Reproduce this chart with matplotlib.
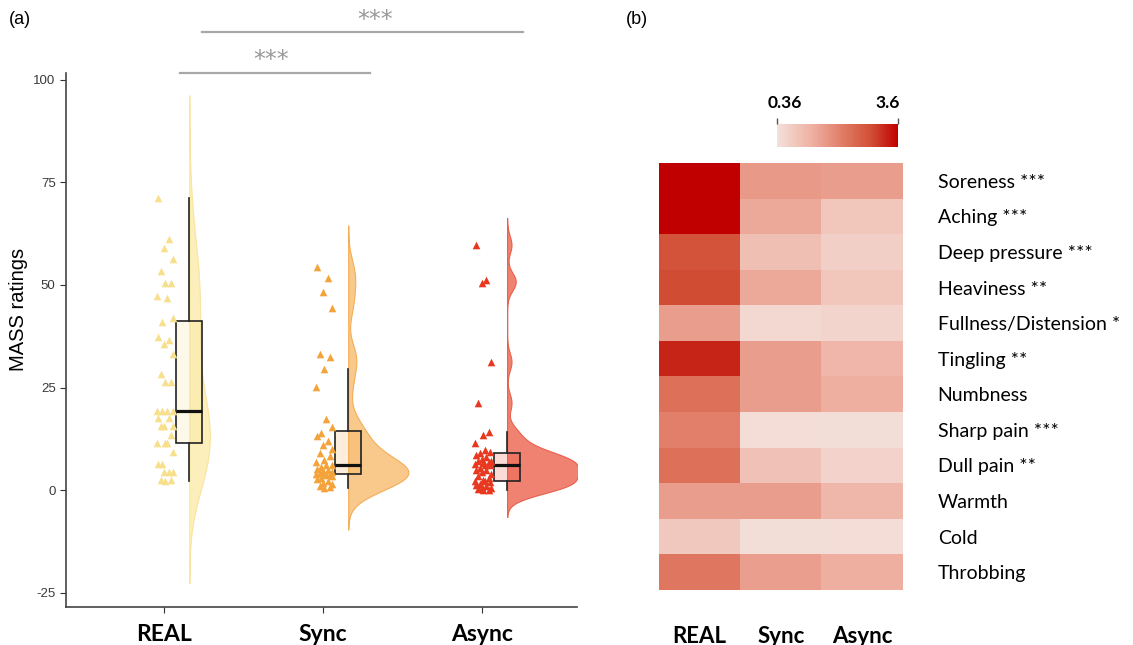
import numpy as np
import matplotlib
matplotlib.use("Agg")
import matplotlib.pyplot as plt
from matplotlib import mlab
from matplotlib.colors import LinearSegmentedColormap, to_rgba

plt.rcParams['font.family'] = ['Liberation Sans', 'DejaVu Sans']
plt.rcParams['axes.unicode_minus'] = False

# ---- panel (a) data: MASS ratings per condition ----
groups = ['REAL', 'Sync', 'Async']
real_vals = [71.3, 61.3, 59.1, 56.3, 53.3, 50.4, 50.4, 47.4, 46.8, 42.0,
             41.0, 37.3, 36.6, 35.6, 33.2, 28.3, 26.3, 26.3, 19.3, 19.3,
             19.3, 19.3, 17.6, 17.6, 15.6, 15.6, 15.6, 13.4, 11.5, 11.5,
             11.5, 9.3, 6.4, 6.4, 4.3, 4.3, 4.3, 2.5, 2.5, 2.2]
sync_vals = [54.4, 51.6, 48.4, 44.4, 33.2, 32.5, 29.5, 25.2, 17.3, 15.4,
             14.0, 13.2, 12.0, 11.0, 10.0, 9.0, 8.2, 7.4, 6.8, 6.2,
             6.0, 5.6, 5.2, 4.9, 4.6, 4.4, 4.2, 4.0, 3.9, 3.85,
             3.8, 3.4, 3.0, 2.6, 2.2, 1.8, 1.4, 1.0, 0.8, 0.5]
async_vals = [59.8, 51.2, 50.4, 31.3, 21.3, 14.1, 13.4, 11.4, 9.8, 9.2,
              9.0, 8.5, 8.0, 7.5, 7.2, 7.0, 6.8, 6.5, 6.3, 6.2,
              6.0, 5.5, 5.0, 4.8, 4.5, 4.0, 3.5, 3.0, 2.5, 2.3,
              2.1, 2.0, 1.5, 1.2, 1.0, 0.8, 0.5, 0.3, 0.0, 0.0]

point_colors = ['#f8df8c', '#f4a33a', '#e8381f']
violin_colors = ['#fcefbb', '#f9c98c', '#f08272']
edge_colors = ['#f9e4a0', '#f5ad55', '#e9604d']

# ---- panel (b) data: mean sensation intensity ----
symptoms = ['Soreness', 'Aching', 'Deep pressure', 'Heaviness',
            'Fullness/Distension', 'Tingling', 'Numbness', 'Sharp pain',
            'Dull pain', 'Warmth', 'Cold', 'Throbbing']
sig_marks = ['***', '***', '***', '**', '*', '**', '', '***', '**', '', '', '']
heat_real = [3.6, 3.6, 2.8, 2.9, 1.6, 3.27, 2.3, 2.05, 2.3, 1.6, 0.82, 2.2]
heat_sync = [1.66, 1.4, 1.0, 1.4, 0.5, 1.6, 1.6, 0.42, 0.94, 1.6, 0.4, 1.55]
heat_async = [1.6, 0.85, 0.68, 0.85, 0.6, 1.17, 1.3, 0.4, 0.62, 1.15, 0.42, 1.3]

W, H = 1133, 645
fig = plt.figure(figsize=(W / 100, H / 100), dpi=100)

# ================= panel (a) =================
ax = fig.add_axes([66 / W, 1 - 607 / H, 511 / W, 534.5 / H])
jitter = np.array([-0.035, 0.03, 0.0, 0.06, -0.02, 0.045, 0.01, -0.045, 0.022, 0.055, -0.01])
box_off = 0.16

curves = []
for vals in [real_vals, sync_vals, async_vals]:
    v = np.array(vals)
    sd = v.std(ddof=1)
    q75, q25 = np.percentile(v, [75, 25])
    bw = 0.9 * min(sd, (q75 - q25) / 1.34) * len(v) ** -0.2
    kde = mlab.GaussianKDE(v, bw_method=bw / sd)
    ys = np.linspace(v.min() - 3 * bw, v.max() + 3 * bw, 400)
    curves.append((ys, kde.evaluate(ys)))
scale = 0.45 / max(d.max() for _, d in curves)

for i, vals in enumerate([real_vals, sync_vals, async_vals]):
    pos = i + 1
    v = np.array(vals)
    ys, dens = curves[i]
    ax.fill_betweenx(ys, pos + box_off, pos + box_off + dens * scale,
                     facecolor=violin_colors[i], edgecolor=edge_colors[i], lw=0.8, zorder=2)
    ax.scatter(pos + np.resize(jitter, len(v)), v, marker='^', s=30,
               color=point_colors[i], linewidths=0, zorder=4)
    ax.boxplot(v, positions=[pos + box_off], widths=0.165, patch_artist=True,
               showfliers=False, showcaps=False, manage_ticks=False, zorder=3,
               boxprops=dict(facecolor=to_rgba(point_colors[i], 0.18), edgecolor='#222222', lw=1.2),
               medianprops=dict(color='#111111', lw=2.3),
               whiskerprops=dict(color='#222222', lw=1.2))

ax.set_xlim(0.384, 3.6)
ax.set_ylim(-28.5, 101.8)
ax.set_xticks([1, 2, 3])
ax.set_xticklabels(groups, fontsize=16.5, fontweight='bold', family=['Lato', 'DejaVu Sans'])
ax.set_yticks([-25, 0, 25, 50, 75, 100])
ax.tick_params(axis='y', labelsize=9.5, labelcolor='#3a3a3a', length=4, color='#333333')
ax.tick_params(axis='x', length=4, color='#333333', pad=8)
ax.spines[['top', 'right']].set_visible(False)
for s in ['left', 'bottom']:
    ax.spines[s].set_color('#444444')
    ax.spines[s].set_linewidth(1.2)
ax.set_ylabel('MASS ratings', fontsize=14.5)
ax.yaxis.set_label_coords(-0.074, 0.556)

# significance brackets
ax.plot([1.10, 2.30], [101.7, 101.7], color='#a8a8a8', lw=1.6, clip_on=False)
ax.plot([1.24, 3.26], [111.7, 111.7], color='#a8a8a8', lw=1.6, clip_on=False)
ax.text(1.675, 104.8, '***', color='#9a9a9a', fontsize=17, ha='center', va='center',
        family='DejaVu Sans', clip_on=False)
ax.text(2.33, 114.6, '***', color='#9a9a9a', fontsize=17, ha='center', va='center',
        family='DejaVu Sans', clip_on=False)

fig.text(20 / W, 1 - 20 / H, '(a)', fontsize=13, ha='center', va='center')
fig.text(637 / W, 1 - 20 / H, '(b)', fontsize=13, ha='center', va='center')

# ================= panel (b) =================
cmap = LinearSegmentedColormap.from_list(
    'mass', [(0, '#f4e0da'), (0.3, '#eeae9f'), (0.55, '#e07a64'), (0.78, '#d14e34'), (1, '#c00000')])
heat = np.column_stack([heat_real, heat_sync, heat_async])

axh = fig.add_axes([659 / W, 1 - 590 / H, 244 / W, 427 / H])
im = axh.imshow(heat, cmap=cmap, vmin=0.36, vmax=3.6, aspect='auto', interpolation='nearest')
axh.set_xticks(range(3))
axh.set_xticklabels(groups, fontsize=16, fontweight='bold', family=['Lato', 'DejaVu Sans'])
axh.tick_params(axis='x', length=0, pad=26)
axh.yaxis.tick_right()
axh.set_yticks(range(len(symptoms)))
axh.set_yticklabels([(s + ' ' + m).strip() for s, m in zip(symptoms, sig_marks)],
                    fontsize=14, family=['Lato', 'DejaVu Sans'])
axh.tick_params(axis='y', length=0, pad=25)
for s in axh.spines.values():
    s.set_visible(False)

cax = fig.add_axes([777 / W, 1 - 147 / H, 121 / W, 23 / H])
cb = fig.colorbar(im, cax=cax, orientation='horizontal', ticks=[0.36, 3.6])
cb.outline.set_visible(False)
cax.xaxis.set_ticks_position('top')
cax.set_xticklabels([])
cax.tick_params(axis='x', length=4, width=1, color='#555555')
cax.text(0.36 - 0.25, 1.9, '0.36', transform=cax.get_xaxis_transform(), ha='left', va='center',
         fontsize=12.5, fontweight='bold', family=['Lato', 'DejaVu Sans'])
cax.text(3.6 + 0.06, 1.9, '3.6', transform=cax.get_xaxis_transform(), ha='right', va='center',
         fontsize=12.5, fontweight='bold', family=['Lato', 'DejaVu Sans'])

fig.savefig('out.png', dpi=100)
